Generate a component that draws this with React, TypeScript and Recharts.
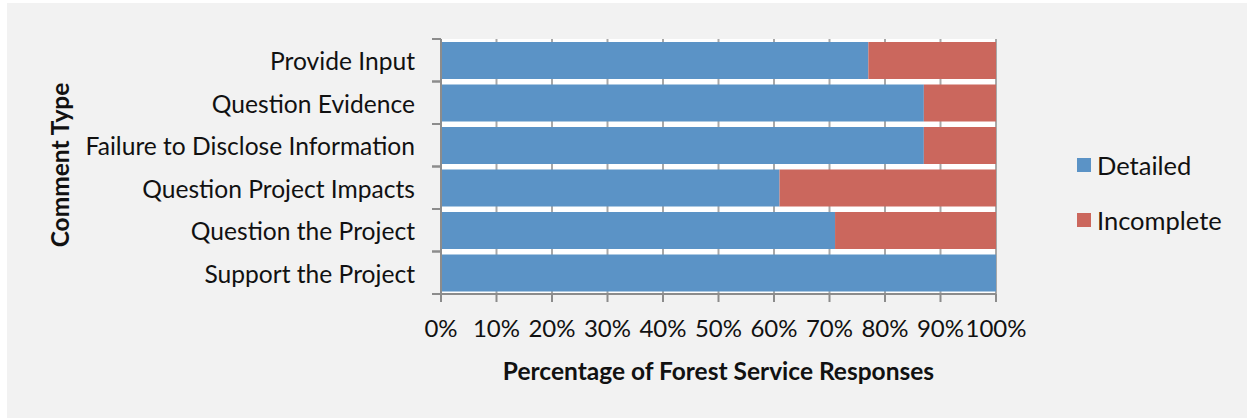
import { BarChart, Bar, XAxis, YAxis, CartesianGrid, Legend } from "recharts"

const categories = [
  "Provide Input",
  "Question Evidence",
  "Failure to Disclose Information",
  "Question Project Impacts",
  "Question the Project",
  "Support the Project",
]
const detailed = [77, 87, 87, 61, 71, 100]
const incomplete = [23, 13, 13, 39, 29, 0]
const xTicks = [0, 10, 20, 30, 40, 50, 60, 70, 80, 90, 100]

const data = categories.map((name, i) => ({ name, detailed: detailed[i], incomplete: incomplete[i] }))

const FONT = "Lato, 'Open Sans', sans-serif"
const BLUE = "#5b93c6"
const RED = "#cb675d"
const AXIS = "#8c8c8c"
const TEXT = "#111"

const CategoryTick = (props: any) => {
  const { x, y, payload } = props
  const half = payload.offset || 21
  const axisX = x + 26
  return (
    <g>
      <line x1={axisX - 9} x2={axisX} y1={y - half} y2={y - half} stroke={AXIS} strokeWidth={2} />
      <line x1={axisX - 9} x2={axisX} y1={y + half} y2={y + half} stroke={AXIS} strokeWidth={2} />
      <text x={x} y={y} dy={10} textAnchor="end" fontSize={24.6} fontFamily={FONT} fill={TEXT}>
        {payload.value}
      </text>
    </g>
  )
}

const LegendBox = () => (
  <div style={{ fontFamily: FONT, fontSize: 25.5, color: TEXT }}>
    {[
      { label: "Detailed", color: BLUE },
      { label: "Incomplete", color: RED },
    ].map((it, i) => (
      <div key={it.label} style={{ display: "flex", alignItems: "center", height: 30, marginTop: i ? 25 : 0 }}>
        <span style={{ width: 14, height: 14, background: it.color, marginRight: 6, display: "inline-block" }} />
        <span>{it.label}</span>
      </div>
    ))}
  </div>
)

export default function App() {
  return (
    <div style={{ position: "absolute", left: 0, top: 0, width: 1247, height: 418, background: "#fff" }}>
      <div style={{ position: "absolute", left: 7, top: 3, width: 1240, height: 415, background: "#f2f2f2" }}>
        <BarChart
          width={1240}
          height={415}
          data={data}
          layout="vertical"
          margin={{ top: 36, right: 251, bottom: 64, left: 0 }}
          barCategoryGap={3}
        >
          <CartesianGrid horizontal={false} stroke="#a8a8a8" strokeWidth={2} fill="#fff" />
          <XAxis
            type="number"
            domain={[0, 100]}
            ticks={xTicks}
            interval={0}
            tickFormatter={(v) => `${v}%`}
            stroke={AXIS}
            strokeWidth={2}
            tickSize={8}
            tickMargin={18}
            height={60}
            tick={{ fontSize: 24, fontFamily: FONT, fill: TEXT }}
            label={{
              value: "Percentage of Forest Service Responses",
              position: "bottom",
              offset: 9,
              style: { fontSize: 24.5, fontWeight: 700, fontFamily: FONT, fill: TEXT },
            }}
          />
          <YAxis
            type="category"
            dataKey="name"
            width={434}
            stroke={AXIS}
            strokeWidth={2}
            tickLine={false}
            tickSize={9}
            tickMargin={17}
            tick={<CategoryTick />}
            label={{
              content: () => (
                <text
                  x={56}
                  y={162}
                  transform="rotate(-90 56 162)"
                  textAnchor="middle"
                  dominantBaseline="middle"
                  fontSize={24.5}
                  fontWeight={700}
                  fontFamily={FONT}
                  fill={TEXT}
                >
                  Comment Type
                </text>
              ),
            }}
          />
          <Legend
            layout="vertical"
            align="center"
            verticalAlign="middle"
            content={<LegendBox />}
            wrapperStyle={{ left: 1070, top: 147, width: 170 }}
          />
          <Bar dataKey="detailed" name="Detailed" stackId="a" fill={BLUE} isAnimationActive={false} />
          <Bar dataKey="incomplete" name="Incomplete" stackId="a" fill={RED} isAnimationActive={false} />
        </BarChart>
      </div>
    </div>
  )
}
